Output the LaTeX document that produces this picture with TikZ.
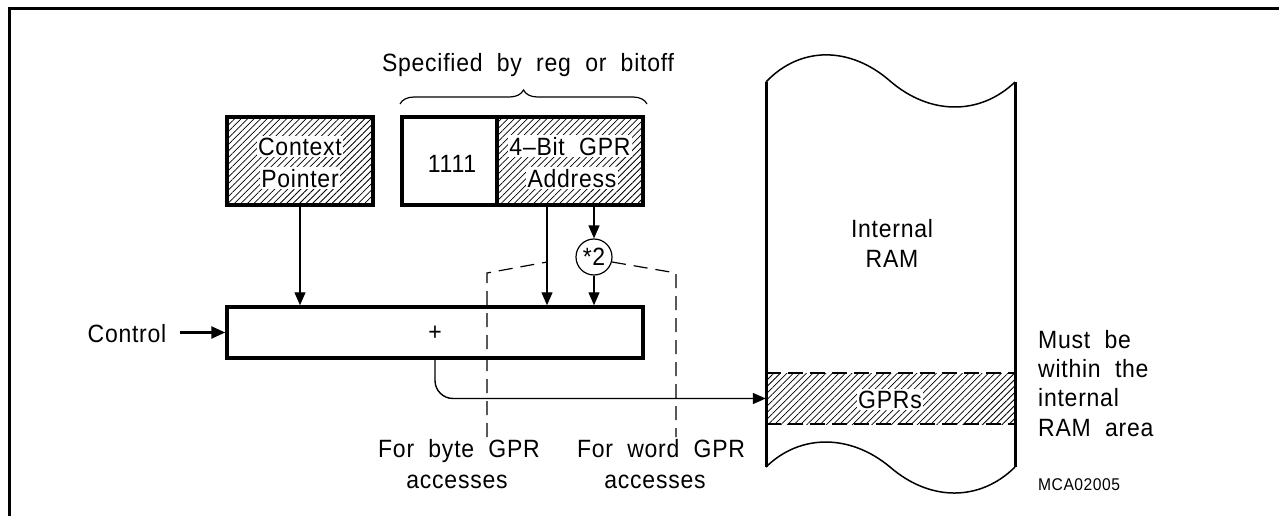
\documentclass[tikz,border=0pt]{standalone}
\usepackage{fontspec}
\setmainfont{Liberation Sans}[WordSpace=2, FakeStretch=0.92, LetterSpace=3]
\usetikzlibrary{arrows.meta,patterns.meta,decorations.pathreplacing}
\begin{document}
\begin{tikzpicture}[x=1pt,y=-1pt,
  every node/.style={font=\fontsize{25}{30}\selectfont, inner sep=1pt},
  hatch/.style={pattern={Lines[angle=45,distance=4.6pt,line width=0.75pt]}},
  thickbox/.style={draw, line width=3.5pt},
  conn/.style={line width=1.4pt, -{Triangle[length=13pt,width=11pt]}},
  accline/.style={line width=1.2pt, dash pattern=on 14pt off 8pt},
  lbl/.style={fill=white, inner sep=1.5pt, anchor=base},
  txt/.style={anchor=base},
  ramedge/.style={line width=3pt},
  wave/.style={line width=1.5pt}]
\useasboundingbox (0,0) rectangle (1279,516);
% frame
\draw[line width=3pt] (1279,9) -- (9,9) -- (9,516);

% title and brace
\node[txt] (spec) at (528,72) {Specified by reg or bitoff};
\coordinate (bl) at (400,104);
\coordinate (br) at (647,104);
\draw[decorate, decoration={brace, amplitude=14pt}, line width=1.2pt] (bl) -- (br);

% context pointer
\path[hatch] (227,117) rectangle (373,205);
\node[thickbox, minimum width=146pt, minimum height=88pt] (cp) at (300,161) {};
\node[lbl] (cp1) at (300,155) {Context};
\node[lbl] (cp2) at (300,187) {Pointer};

% 1111 / address
\path[hatch] (497,117) rectangle (643,205);
\node[thickbox, minimum width=95pt, minimum height=88pt] (one) at (449.5,161) {};
\node[thickbox, minimum width=146pt, minimum height=88pt] (ad) at (570,161) {};
\node[txt] (onet) at (452,172) {1111};
\node[lbl] (ad1) at (570,155) {4\textendash Bit GPR};
\node[lbl] (ad2) at (572,187) {Address};

% times two
\node[draw, circle, line width=1.2pt, minimum size=36pt, inner sep=0pt] (m2) at (594,257) {*2};

% adder
\node[thickbox, minimum width=416pt, minimum height=51pt] (add) at (435,332.5) {};
\node (plus) at (435,333) {+};

% control
\node[txt] (ctl) at (127,342) {Control};
\draw[line width=2.5pt, -{Triangle[length=14pt,width=12pt]}, shorten <=12pt] (ctl.east |- add.west) -- (add.west);

% connectors
\coordinate (s1) at (547,205);
\draw[conn] (cp.south) -- (cp.south |- add.north);
\draw[conn] (s1) -- (s1 |- add.north);
\draw[conn] (ad.south -| m2) -- (m2.north);
\draw[conn] (m2.south) -- (m2.south |- add.north);

% dashed access lines
\coordinate (d1) at (487,437);
\coordinate (d2) at (487,273);
\coordinate (d3) at (547,262);
\coordinate (d4) at (612,262);
\coordinate (d5) at (676,273);
\coordinate (d6) at (676,437);
\draw[accline] (d1) -- (d2) -- (d3);
\draw[accline] (d4) -- (d5) -- (d6);
\node[txt] (fb1) at (459,457) {For byte GPR};
\node[txt] (fb2) at (457,488) {accesses};
\node[txt] (fw1) at (661,457) {For word GPR};
\node[txt] (fw2) at (655,488) {accesses};

% RAM
\path[hatch] (766,373) rectangle (1015,424);
\node[minimum width=249pt, minimum height=51pt, inner sep=0pt] (gprs) at (890.5,398.5) {};
\draw[line width=2.5pt, dash pattern=on 15pt off 7pt] (gprs.north west) -- (gprs.north east);
\draw[line width=2.5pt, dash pattern=on 15pt off 7pt] (gprs.south west) -- (gprs.south east);
\node[lbl] (gt) at (890,408) {GPRs};
\draw[ramedge] (766,82) -- (766,467);
\draw[ramedge] (1015,82) -- (1015,467);
\draw[wave] (766,82) .. controls (800,46) and (850,46) .. (890,81) .. controls (930,115.5) and (980,115.5) .. (1015,82);
\draw[wave] (766,467) .. controls (800,433.7) and (850,433.7) .. (890,467) .. controls (930,501.7) and (980,501.7) .. (1015,467);
\node[txt] (ir1) at (892,237) {Internal};
\node[txt] (ir2) at (892,267) {RAM};

% output
\draw[line width=1.4pt, rounded corners=18pt, -{Triangle[length=13pt,width=11pt]}] (add.south) |- (gprs.west);

% notes
\node[txt, anchor=base west] (n1) at (1037,348) {Must be};
\node[txt, anchor=base west] (n2) at (1037,377) {within the};
\node[txt, anchor=base west] (n3) at (1037,406) {internal};
\node[txt, anchor=base west] (n4) at (1037,436) {RAM area};
\node[txt, anchor=base west, font=\fontsize{17}{20}\selectfont] (mca) at (1037,490) {MCA02005};
\end{tikzpicture}
\end{document}
